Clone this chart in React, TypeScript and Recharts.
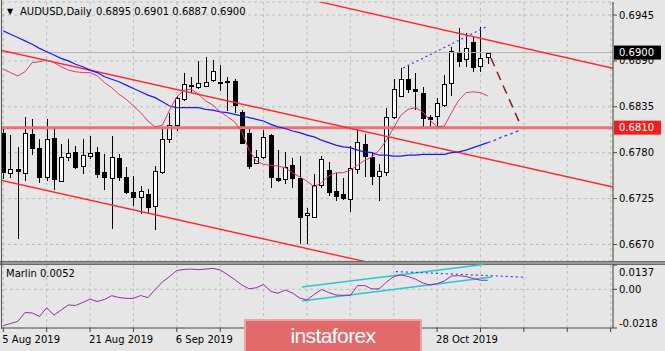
import React from "react";
import {
  ComposedChart,
  Bar,
  Line,
  XAxis,
  YAxis,
  CartesianGrid,
  ReferenceLine,
} from "recharts";

// ---------------------------------------------------------------------------
// Data (AUDUSD daily, 5 Aug 2019 onwards)
// ---------------------------------------------------------------------------

const OPEN = [
  0.6804, 0.6756, 0.6761, 0.6756, 0.6802, 0.6786, 0.6751, 0.6798, 0.6746, 0.6775,
  0.6781, 0.6764, 0.6776, 0.6781, 0.6757, 0.675, 0.6774, 0.6751, 0.6733, 0.6727,
  0.6731, 0.6716, 0.6757, 0.6796, 0.6813, 0.6844, 0.6861, 0.6859, 0.686, 0.6867,
  0.6865, 0.6866, 0.6866, 0.6829, 0.6804, 0.6768, 0.6775, 0.6801, 0.675, 0.6749,
  0.6765, 0.675, 0.6705, 0.6703, 0.6741, 0.6759, 0.6734, 0.6731, 0.6725, 0.6761,
  0.679, 0.6775, 0.6752, 0.6757, 0.6823, 0.6848, 0.6868, 0.6856, 0.6852, 0.6823,
  0.6824, 0.6837, 0.6864, 0.6901, 0.6892, 0.6913, 0.6884, 0.6895,
];
const HIGH = [
  0.681, 0.6801, 0.6787, 0.6823, 0.682, 0.6796, 0.682, 0.681, 0.679, 0.6796,
  0.6788, 0.6796, 0.68, 0.6787, 0.6779, 0.68, 0.6779, 0.6763, 0.6752, 0.674,
  0.6737, 0.6764, 0.6808, 0.6828, 0.6848, 0.6876, 0.6871, 0.689, 0.6895, 0.6891,
  0.6885, 0.6871, 0.6868, 0.6831, 0.6811, 0.6783, 0.6807, 0.6802, 0.6783, 0.6781,
  0.6774, 0.6776, 0.6714, 0.6755, 0.6776, 0.6769, 0.6756, 0.675, 0.6788, 0.6811,
  0.6802, 0.6781, 0.6766, 0.6834, 0.6868, 0.6882, 0.6885, 0.6876, 0.6859, 0.6825,
  0.6846, 0.6873, 0.6907, 0.6929, 0.6923, 0.692, 0.6931, 0.6901,
];
const LOW = [
  0.675, 0.6751, 0.6678, 0.6747, 0.6779, 0.6745, 0.6747, 0.6737, 0.6746, 0.6771,
  0.6762, 0.6756, 0.6774, 0.6751, 0.6737, 0.669, 0.6747, 0.6732, 0.6717, 0.6708,
  0.6708, 0.6689, 0.6756, 0.6793, 0.6807, 0.6843, 0.6853, 0.6858, 0.686, 0.6866,
  0.6855, 0.6831, 0.6829, 0.6792, 0.6762, 0.6768, 0.6774, 0.6739, 0.6746, 0.6744,
  0.6739, 0.6672, 0.6672, 0.6703, 0.6739, 0.6729, 0.6723, 0.6725, 0.671, 0.6756,
  0.6752, 0.6743, 0.6723, 0.6753, 0.6822, 0.6848, 0.6853, 0.6832, 0.681, 0.681,
  0.681, 0.6836, 0.6849, 0.6884, 0.6884, 0.6878, 0.6878, 0.6887,
];
const CLOSE = [
  0.6757, 0.6761, 0.6758, 0.6804, 0.6786, 0.6751, 0.6796, 0.6749, 0.6775, 0.678,
  0.6763, 0.6777, 0.678, 0.6755, 0.6751, 0.6775, 0.6751, 0.6733, 0.6727, 0.6734,
  0.6715, 0.6758, 0.6796, 0.6813, 0.6846, 0.6862, 0.686, 0.6864, 0.6865, 0.6878,
  0.6864, 0.6865, 0.6837, 0.6792, 0.6764, 0.6775, 0.6799, 0.6751, 0.6747, 0.6763,
  0.675, 0.6703, 0.6708, 0.6741, 0.6772, 0.6733, 0.6728, 0.6726, 0.6762, 0.6793,
  0.6776, 0.6752, 0.6758, 0.6823, 0.6856, 0.6868, 0.6856, 0.6854, 0.6822, 0.682,
  0.684, 0.6862, 0.6902, 0.689, 0.6905, 0.6883, 0.6893, 0.69,
];

// slow moving average (blue) and fast moving average (red)
const MA_SLOW = [
  0.6926, 0.6922, 0.6918, 0.6914, 0.691, 0.6905, 0.6901, 0.6897, 0.6893, 0.689,
  0.6886, 0.6883, 0.6879, 0.6876, 0.6871, 0.6868, 0.6865, 0.6861, 0.6857, 0.6853,
  0.6849, 0.6846, 0.6841, 0.6836, 0.6834, 0.6834, 0.6834, 0.6834, 0.6832, 0.6831,
  0.6829, 0.6828, 0.6826, 0.6824, 0.6822, 0.682, 0.6818, 0.6814, 0.6811, 0.6809,
  0.6806, 0.6804, 0.6801, 0.6799, 0.6795, 0.6792, 0.6789, 0.6787, 0.6786, 0.6783,
  0.6781, 0.678, 0.6777, 0.6777, 0.6776, 0.6776, 0.6777, 0.6777, 0.6778, 0.6778,
  0.6778, 0.6778, 0.678, 0.6781, 0.6783, 0.6786, 0.6789, 0.6792,
];
const MA_FAST = [
  0.688, 0.6876, 0.6872, 0.6877, 0.6888, 0.6889, 0.6891, 0.6888, 0.6883, 0.6879,
  0.6877, 0.6876, 0.6876, 0.6872, 0.6864, 0.6858, 0.685, 0.6844, 0.6836, 0.6828,
  0.6818, 0.6811, 0.6813, 0.6831, 0.6847, 0.6855, 0.6856, 0.685, 0.6842, 0.6837,
  0.6829, 0.6823, 0.6817, 0.6805, 0.6783, 0.677, 0.6766, 0.6765, 0.6764, 0.6762,
  0.6756, 0.6751, 0.6746, 0.6739, 0.6744, 0.6752, 0.6756, 0.6756, 0.6759, 0.6765,
  0.6771, 0.6775, 0.6783, 0.6795, 0.681, 0.6825, 0.6832, 0.6834, 0.6829, 0.6819,
  0.6811, 0.6812, 0.6828, 0.6843, 0.6852, 0.6853, 0.6852, 0.6848,
];
// dashed forecast of the slow average
const MA_SLOW_PROJ_X = [67, 68, 69, 70, 71.5];
const MA_SLOW_PROJ = [0.6792, 0.6795, 0.6799, 0.6802, 0.6807];

const MARLIN = [
  -0.0204, -0.0193, -0.0181, -0.0131, -0.0133, -0.0153, -0.0104, -0.0145, -0.0117, -0.0088,
  -0.0091, -0.0074, -0.0055, -0.0069, -0.0057, -0.0036, -0.0046, -0.0051, -0.0051, -0.0035,
  -0.0047, -0.0001, 0.0041, 0.0072, 0.0106, 0.0112, 0.0114, 0.0111, 0.0114, 0.0118,
  0.0109, 0.0083, 0.0055, 0.0024, 0.0003, 0.0009, 0.0027, -0.0012, -0.0022, -0.0004,
  -0.0021, -0.0049, -0.006, -0.0029, -0.0001, -0.0018, -0.0032, -0.0034, -0.0034, 0.0021,
  0.0021, 0.0002, 0.0003, 0.0041, 0.0072, 0.0081, 0.0072, 0.0058, 0.0036, 0.0024,
  0.0032, 0.0047, 0.0075, 0.0077, 0.0072, 0.0061, 0.0051, 0.0051,
];

// drawn objects: [barIndex, value] pairs
const CHANNEL_TOP = [[41.04, 0.69662], [84.33, 0.68811]];
const CHANNEL_MID = [[-0.456, 0.69031], [84.33, 0.67389]];
const CHANNEL_LOW = [[-0.456, 0.67473], [84.33, 0.65831]];
const SUPPORT = 0.681;
const LAST_PRICE = 0.69;
const DOTTED_HIGHS = [[55.3, 0.68815], [67.0, 0.69318]];
const FORECAST = [[67.45, 0.68935], [71.6, 0.6812]];
const MARLIN_UPPER = [[41.3, 0.0013], [66.4, 0.014]];
const MARLIN_LOWER = [[41.3, -0.0066], [67.6, 0.0069]];
const MARLIN_DOTTED = [[54.3, 0.01], [72.3, 0.0068]];

const PRICE_TICKS = [0.667, 0.6725, 0.678, 0.6835, 0.689, 0.6945];
const MARLIN_TICKS = [-0.0218, 0, 0.0137];
const GRID_BARS = [0, 6, 12, 18, 24, 30, 36, 42, 48, 54, 60, 66, 72, 78, 84];
// date labels visible in the picture (the ones for 24 Sep / 10 Oct sit under the logo)
const DATE_TICKS = [0, 12, 24, 60];
const DATE_LABELS = ["5 Aug 2019", "21 Aug 2019", "6 Sep 2019", "28 Oct 2019"];

const X_DOMAIN: [number, number] = [-0.18, 84.33];
const PRICE_DOMAIN: [number, number] = [0.66502, 0.69606];
const MARLIN_DOMAIN: [number, number] = [-0.0218, 0.0137];

const rows = OPEN.map((o, i) => ({
  i,
  o,
  h: HIGH[i],
  l: LOW[i],
  c: CLOSE[i],
  slow: MA_SLOW[i],
  fast: MA_FAST[i],
  marlin: MARLIN[i],
}));
const projRows = MA_SLOW_PROJ_X.map((i, k) => ({ i, proj: MA_SLOW_PROJ[k] }));

const seg = (p: number[][]) => p.map(([x, y]) => ({ x, y }));

// ---------------------------------------------------------------------------
// Pieces
// ---------------------------------------------------------------------------

const BG = "#e6e6e6";
const GRID = "#bdbdbd";
const FONT = "'DejaVu Sans', sans-serif";

function Candle(props: any) {
  const { x, y, width, height, payload } = props;
  if (!payload || height == null) return null;
  const { o, h, l, c } = payload;
  const k = h > l ? height / (h - l) : 0;
  const cx = Math.round(x + width / 2) + 0.5;
  const yo = y + (h - o) * k;
  const yc = y + (h - c) * k;
  const top = Math.round(Math.min(yo, yc)) + 0.5;
  const bot = Math.round(Math.max(yo, yc)) + 0.5;
  const up = c >= o;
  return (
    <g>
      <line x1={cx} x2={cx} y1={Math.round(y)} y2={Math.round(y + height) + 1} stroke="#000" />
      <rect x={cx - 2} y={top} width={4} height={Math.max(bot - top, 0)} fill={up ? "#fff" : "#000"} stroke="#000" />
    </g>
  );
}

function PriceTag(props: any) {
  const { viewBox, text, bg } = props;
  if (!viewBox) return null;
  const x = viewBox.x + viewBox.width + 1;
  const y = viewBox.y;
  return (
    <g>
      <rect x={x} y={y - 7} width={47} height={14} fill={bg} />
      <text x={x + 5} y={y} dy="0.355em" fontSize={10} fill="#fff" fontFamily={FONT}>
        {text}
      </text>
    </g>
  );
}

function MarlinTick(props: any) {
  const { x, y, payload } = props;
  const v = payload.value;
  const dy = v > 0 ? 7 : v < 0 ? -5 : 0;
  const label = v === 0 ? "0.00" : v.toFixed(4);
  return (
    <text x={x} y={y + dy} dy="0.355em" fontSize={10} fill="#000" textAnchor="start" fontFamily={FONT}>
      {label}
    </text>
  );
}

function DateTick(props: any) {
  const { x, y, payload } = props;
  const k = DATE_TICKS.indexOf(payload.value);
  if (k < 0) return null;
  return (
    <text x={x - 1} y={y} dy="0.71em" fontSize={10} fill="#000" textAnchor="start" fontFamily={FONT}>
      {DATE_LABELS[k]}
    </text>
  );
}

// ---------------------------------------------------------------------------
// Component
// ---------------------------------------------------------------------------

export default function App() {
  return (
    <div
      style={{
        position: "absolute",
        left: 0,
        top: 0,
        width: 665,
        height: 351,
        background: BG,
        overflow: "hidden",
        fontFamily: FONT,
      }}
    >
      {/* price window */}
      <div style={{ position: "absolute", left: 0, top: 0 }}>
        <ComposedChart width={665} height={262} data={rows} margin={{ top: 2, right: 0, bottom: 1, left: 2 }}>
          <CartesianGrid stroke={GRID} strokeDasharray="3 3" />
          <XAxis dataKey="i" type="number" domain={X_DOMAIN} ticks={GRID_BARS} interval={0} allowDataOverflow hide />
          <YAxis
            orientation="right"
            width={52}
            type="number"
            domain={PRICE_DOMAIN}
            ticks={PRICE_TICKS}
            interval={0}
            allowDataOverflow
            tickFormatter={(v: number) => v.toFixed(4)}
            tick={{ fontSize: 10, fill: "#000" }}
            tickSize={4}
            tickLine={{ stroke: "#444" }}
            axisLine={{ stroke: "#444" }}
          />
          <ReferenceLine y={LAST_PRICE} stroke="#b3b3b3" label={<PriceTag text="0.6900" bg="#000" />} />
          <ReferenceLine
            y={SUPPORT}
            stroke="#ee6f74"
            strokeWidth={3}
            label={<PriceTag text="0.6810" bg="#f41d1d" />}
          />
          <ReferenceLine segment={seg(CHANNEL_TOP)} stroke="#ff2b2b" strokeWidth={1.4} ifOverflow="hidden" />
          <ReferenceLine segment={seg(CHANNEL_MID)} stroke="#ff2b2b" strokeWidth={1.4} ifOverflow="hidden" />
          <ReferenceLine segment={seg(CHANNEL_LOW)} stroke="#ff2b2b" strokeWidth={1.4} ifOverflow="hidden" />
          <Line dataKey="slow" stroke="#1a1aff" strokeWidth={1.2} dot={false} isAnimationActive={false} />
          <Line
            data={projRows}
            dataKey="proj"
            stroke="#3a3aff"
            strokeWidth={1.2}
            strokeDasharray="3 3"
            dot={false}
            isAnimationActive={false}
          />
          <Line dataKey="fast" stroke="#e23a5c" strokeWidth={1} dot={false} isAnimationActive={false} />
          <Bar dataKey={(d: any) => [d.l, d.h]} barSize={5} shape={<Candle />} isAnimationActive={false} />
          <ReferenceLine segment={seg(DOTTED_HIGHS)} stroke="#3b3bff" strokeDasharray="2 3" strokeWidth={1.2} />
          <ReferenceLine segment={seg(FORECAST)} stroke="#8e1b1b" strokeDasharray="9 6" strokeWidth={1.5} />
        </ComposedChart>
      </div>

      {/* window separator */}
      <div
        style={{
          position: "absolute",
          left: 0,
          top: 261,
          width: 665,
          height: 2,
          background: "#9a9a9a",
          borderTop: "1px solid #6a6a6a",
          borderBottom: "1px solid #6a6a6a",
        }}
      />

      {/* Marlin window */}
      <div style={{ position: "absolute", left: 0, top: 262 }}>
        <ComposedChart width={665} height={89} data={rows} margin={{ top: 3, right: 0, bottom: 0, left: 2 }}>
          <CartesianGrid stroke={GRID} strokeDasharray="3 3" horizontal={false} />
          <XAxis
            dataKey="i"
            type="number"
            domain={X_DOMAIN}
            ticks={GRID_BARS}
            interval={0}
            allowDataOverflow
            height={23}
            tick={<DateTick />}
            tickSize={4}
            tickMargin={4}
            tickLine={{ stroke: "#444" }}
            axisLine={{ stroke: "#444" }}
          />
          <YAxis
            orientation="right"
            width={52}
            type="number"
            domain={MARLIN_DOMAIN}
            ticks={MARLIN_TICKS}
            interval={0}
            allowDataOverflow
            tick={<MarlinTick />}
            tickSize={4}
            tickLine={{ stroke: "#444" }}
            axisLine={{ stroke: "#444" }}
          />
          <ReferenceLine y={0} stroke={GRID} strokeDasharray="3 3" />
          <ReferenceLine segment={seg(MARLIN_UPPER)} stroke="#25c8d3" strokeWidth={1.5} ifOverflow="visible" />
          <ReferenceLine segment={seg(MARLIN_LOWER)} stroke="#25c8d3" strokeWidth={1.5} ifOverflow="visible" />
          <ReferenceLine
            segment={seg(MARLIN_DOTTED)}
            stroke="#3b3bff"
            strokeDasharray="2 3"
            strokeWidth={1.2}
            ifOverflow="visible"
          />
          <Line dataKey="marlin" stroke="#9b27af" strokeWidth={1} dot={false} isAnimationActive={false} />
        </ComposedChart>
      </div>

      {/* left frame */}
      <div style={{ position: "absolute", left: 1, top: 0, width: 1, height: 329, background: "#555" }} />

      {/* titles */}
      <div style={{ position: "absolute", left: 7, top: 5, fontSize: 8, lineHeight: "14px", color: "#000" }}>▼</div>
      <div style={{ position: "absolute", left: 20, top: 5, fontSize: 10, lineHeight: "14px", color: "#000" }}>
        AUDUSD,Daily
      </div>
      <div
        style={{
          position: "absolute",
          left: 96,
          top: 5,
          fontSize: 10,
          lineHeight: "14px",
          color: "#000",
          whiteSpace: "pre",
        }}
      >
        0.6895 0.6901 0.6887 0.6900
      </div>
      <div style={{ position: "absolute", left: 6, top: 267, fontSize: 10, lineHeight: "14px", color: "#000" }}>
        Marlin 0.0052
      </div>

      {/* watermark */}
      <div
        style={{
          position: "absolute",
          left: 244,
          top: 319,
          width: 178,
          height: 34,
          boxSizing: "border-box",
          background: "#e36a6a",
          border: "2px solid #f0a3a3",
          color: "#fff",
          fontFamily: "'Liberation Sans', sans-serif",
          fontSize: 21,
          letterSpacing: -0.6,
          lineHeight: "30px",
          textAlign: "center",
        }}
      >
        instaforex
      </div>
    </div>
  );
}
